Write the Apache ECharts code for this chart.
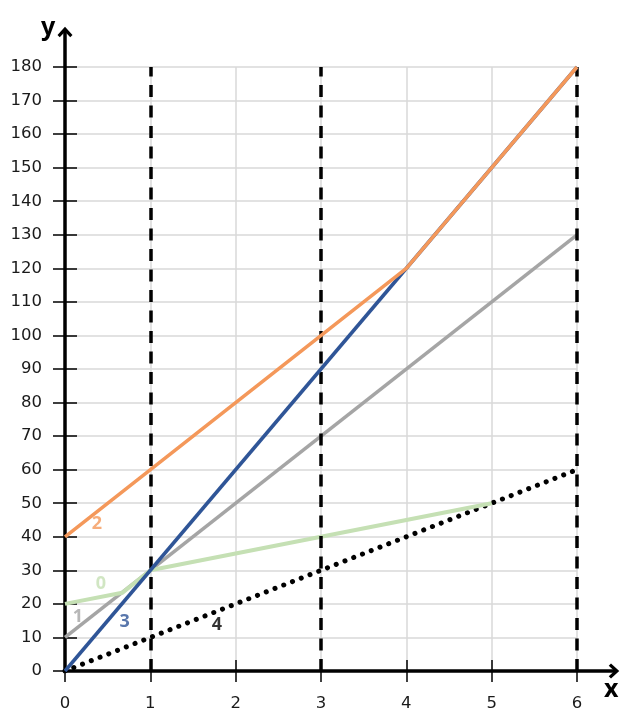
<!DOCTYPE html>
<html>
<head>
<meta charset="utf-8">
<script src="https://cdn.jsdelivr.net/npm/echarts@6/dist/echarts.min.js"></script>
<style>
html,body{margin:0;padding:0;background:#fff;}
#chart{width:631px;height:726px;}
</style>
</head>
<body>
<div id="chart"></div>
<script>
// ---- data ----
const xTicks = [0, 1, 2, 3, 4, 5, 6];
const yTicks = [0, 10, 20, 30, 40, 50, 60, 70, 80, 90, 100, 110, 120, 130, 140, 150, 160, 170, 180];
const line0 = [[0, 20], [0.67, 23.3], [1, 30], [5, 50]];
const line1 = [[0, 10], [6, 130]];
const line2 = [[0, 40], [4, 120], [6, 180]];
const line3 = [[0, 0], [6, 180]];
const line4 = [[0, 0], [6, 60]];
const dashedX = [1, 3, 6];
const lineLabels = [
  { name: '0', x: 0.42, y: 26.1 },
  { name: '1', x: 0.15, y: 16.1 },
  { name: '2', x: 0.375, y: 43.8 },
  { name: '3', x: 0.70, y: 14.5 },
  { name: '4', x: 1.78, y: 13.7 }
];

const colors = { '0': '#C5E0B4', '1': '#A5A5A5', '2': '#F4985A', '3': '#2F5597', '4': '#000000' };
const FONT = 'DejaVu Sans';

const chart = echarts.init(document.getElementById('chart'), null, { renderer: 'canvas' });

const chevron = 'path://M10 0 L20 11 L17 14 L10 6.5 L3 14 L0 11 Z';

const option = {
  backgroundColor: '#ffffff',
  animation: false,
  grid: [
    { left: 65, right: 54, top: 67, bottom: 55 },
    { left: 65, right: 17, top: 32, bottom: 55 }
  ],
  xAxis: [
    {
      type: 'value', gridIndex: 0, min: xTicks[0], max: xTicks[xTicks.length - 1], interval: 1,
      axisLine: { show: false },
      axisTick: { show: true, inside: false, length: 11, lineStyle: { color: '#000', width: 1.5 } },
      axisLabel: { show: true, margin: 24, color: '#1a1a1a', fontSize: 16.5, fontFamily: FONT },
      splitLine: { show: true, lineStyle: { color: '#D9D9D9', width: 1.5 } }
    },
    {
      type: 'value', gridIndex: 0, position: 'bottom', offset: 0,
      min: xTicks[0], max: xTicks[xTicks.length - 1], interval: 1,
      axisLine: { show: false },
      axisTick: { show: true, inside: true, length: 11, lineStyle: { color: '#000', width: 1.5 } },
      axisLabel: { show: false }, splitLine: { show: false }
    },
    {
      type: 'value', gridIndex: 1, min: 0, max: 1,
      axisLine: { show: true, onZero: false, symbol: ['none', chevron], symbolSize: [15, 12],
        lineStyle: { color: '#000', width: 3.5 } },
      axisTick: { show: false }, axisLabel: { show: false }, splitLine: { show: false }
    }
  ],
  yAxis: [
    {
      type: 'value', gridIndex: 0, min: yTicks[0], max: yTicks[yTicks.length - 1], interval: 10,
      axisLine: { show: false },
      axisTick: { show: true, inside: false, length: 12, lineStyle: { color: '#000', width: 1.5 } },
      axisLabel: { show: true, margin: 23, color: '#1a1a1a', fontSize: 16.5, fontFamily: FONT },
      splitLine: { show: true, lineStyle: { color: '#D9D9D9', width: 1.5 } }
    },
    {
      type: 'value', gridIndex: 0, position: 'left', offset: 0,
      min: yTicks[0], max: yTicks[yTicks.length - 1], interval: 10,
      axisLine: { show: false },
      axisTick: { show: true, inside: true, length: 12, lineStyle: { color: '#000', width: 1.5 } },
      axisLabel: { show: false }, splitLine: { show: false }
    },
    {
      type: 'value', gridIndex: 1, min: 0, max: 1,
      axisLine: { show: true, onZero: false, symbol: ['none', chevron], symbolSize: [15, 12],
        lineStyle: { color: '#000', width: 3.5 } },
      axisTick: { show: false }, axisLabel: { show: false }, splitLine: { show: false }
    }
  ],
  graphic: [
    { type: 'text', left: 41, top: 15, z: 100,
      style: { text: 'y', font: 'bold 25px "Noto Sans"', fill: '#000' } },
    { type: 'text', left: 604, top: 677, z: 100,
      style: { text: 'x', font: 'bold 25px "Noto Sans"', fill: '#000' } }
  ],
  series: [
    {
      type: 'line', name: 'dashed', xAxisIndex: 0, yAxisIndex: 0, data: [], silent: true,
      markLine: {
        silent: true, symbol: ['none', 'none'], label: { show: false },
        lineStyle: { color: '#000', width: 3.5, type: [12, 8.5] },
        data: dashedX.map(v => ({ xAxis: v }))
      }
    },
    {
      type: 'line', name: '4', data: line4, showSymbol: false, z: 3,
      lineStyle: { color: colors['4'], width: 5, type: [0.1, 9.3], cap: 'round' }
    },
    {
      type: 'line', name: '1', data: line1, showSymbol: false, z: 3,
      lineStyle: { color: colors['1'], width: 3.5 }
    },
    {
      type: 'line', name: '0', data: line0, showSymbol: false, z: 4,
      lineStyle: { color: colors['0'], width: 4, join: 'round' }
    },
    {
      type: 'line', name: '3', data: line3, showSymbol: false, z: 5,
      lineStyle: { color: colors['3'], width: 3.5 }
    },
    {
      type: 'line', name: '2', data: line2, showSymbol: false, z: 6,
      lineStyle: { color: colors['2'], width: 3.5, join: 'round' }
    },
    {
      type: 'scatter', name: 'labels', symbolSize: 0, z: 10, silent: true,
      data: lineLabels.map(l => ({
        value: [l.x, l.y],
        label: {
          show: true, position: 'inside', formatter: l.name,
          color: colors[l.name], fontSize: 18, fontWeight: 'bold', fontFamily: 'Noto Sans'
        }
      }))
    }
  ]
};

chart.setOption(option);
</script>
</body>
</html>
